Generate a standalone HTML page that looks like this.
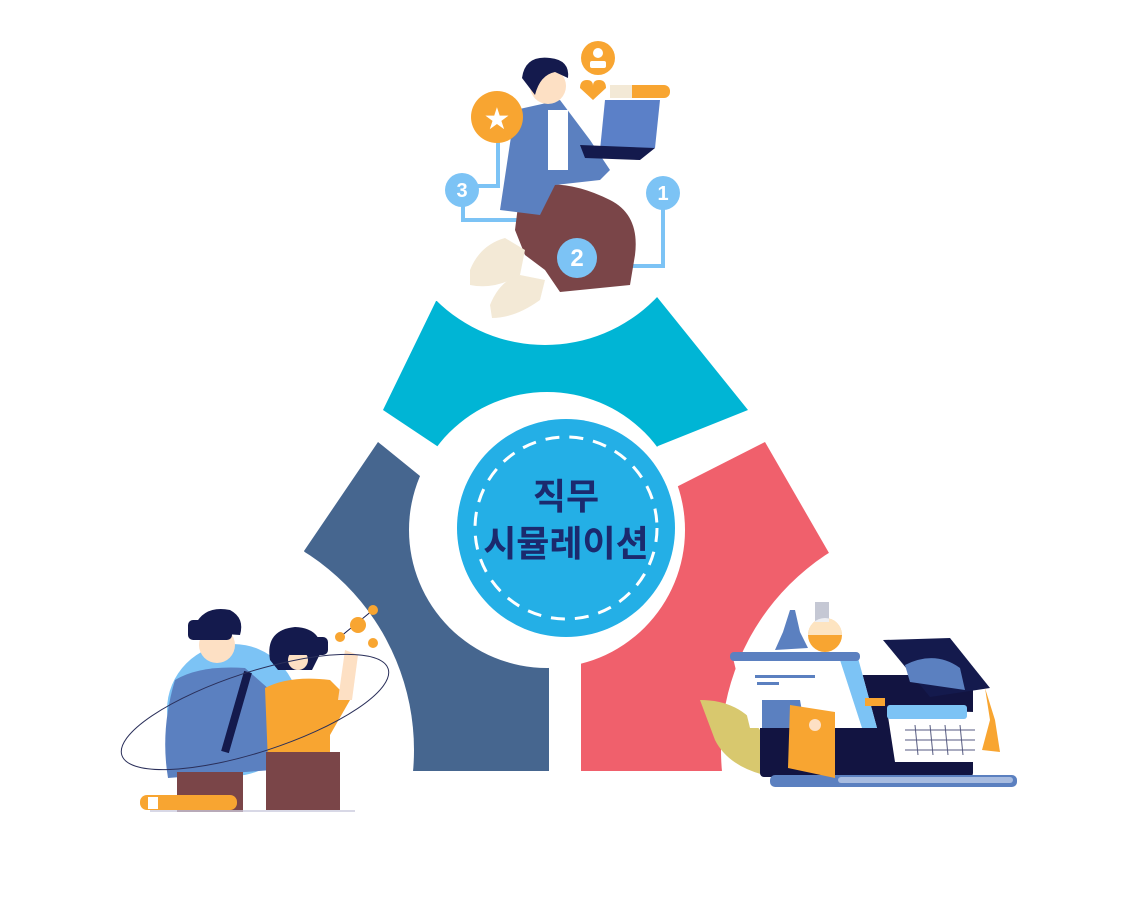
<!DOCTYPE html>
<html><head><meta charset="utf-8"><style>
html,body{margin:0;padding:0;background:#fff;width:1138px;height:904px;overflow:hidden;}
svg{display:block;}
</style></head><body>
<svg width="1138" height="904" viewBox="0 0 1138 904" xmlns="http://www.w3.org/2000/svg">
<rect width="1138" height="904" fill="#fff"/>
<polygon points="436,301 653,292 748,410 658,446 620,480 547,520 475,480 437,446 383,410" fill="#00b5d5"/>
<polygon points="378,442 304,551 412,771 549,771 549,560 470,516 420,476" fill="#46668f"/>
<polygon points="765,442 829,553 722,771 581,771 581,560 635,508 700,475" fill="#f0606c"/>
<circle cx="545" cy="190" r="155" fill="#fff"/>
<circle cx="180" cy="750" r="234" fill="#fff"/>
<circle cx="955" cy="750" r="234" fill="#fff"/>
<circle cx="547" cy="530" r="138" fill="#fff"/>
<circle cx="566" cy="528" r="109" fill="#24afe6"/>
<circle cx="566" cy="528" r="91" fill="none" stroke="#fff" stroke-width="3" stroke-dasharray="14 10"/>
<text x="566" y="509" text-anchor="middle" font-family="'Liberation Sans','Noto Sans CJK KR',sans-serif" font-weight="bold" font-size="36" fill="#1b2a6e">직무</text>
<text x="566" y="556" text-anchor="middle" font-family="'Liberation Sans','Noto Sans CJK KR',sans-serif" font-weight="bold" font-size="36" fill="#1b2a6e">시뮬레이션</text>

<g>
<polyline points="498,140 498,186 478,186" fill="none" stroke="#7cc3f5" stroke-width="4"/>
<polyline points="463,203 463,220 575,220 575,245" fill="none" stroke="#7cc3f5" stroke-width="4"/>
<polyline points="597,266 663,266 663,205" fill="none" stroke="#7cc3f5" stroke-width="4"/>
<path d="M520,190 Q560,175 610,200 Q640,215 635,255 L630,285 L560,292 L545,270 L525,255 L515,230 Z" fill="#7a4548"/>
<path d="M470,270 Q480,245 505,238 L525,250 L520,275 Q495,290 470,285 Z" fill="#f3e9d6"/>
<path d="M490,305 Q500,280 520,275 L545,280 L540,300 Q515,318 492,318 Z" fill="#f3e9d6"/>
<path d="M515,110 L560,100 L590,140 L610,170 L600,180 L555,185 L540,215 L500,210 Z" fill="#5b80c0"/>
<rect x="548" y="110" width="20" height="60" fill="#fff"/>
<circle cx="548" cy="86" r="18" fill="#fde0c4"/>
<path d="M522,78 Q525,55 550,58 Q570,60 568,78 L555,72 Q540,75 535,95 Z" fill="#141a4d"/>
<polygon points="605,100 660,100 655,148 600,150" fill="#5b80c8"/>
<polygon points="580,145 655,148 640,160 585,158" fill="#141a4d"/>
<circle cx="598" cy="58" r="17" fill="#f8a531"/>
<circle cx="598" cy="53" r="5" fill="#fff"/>
<rect x="590" y="61" width="16" height="7" rx="2" fill="#fff"/>
<path d="M593,100 L580,88 Q580,80 587,80 Q593,80 593,86 Q593,80 599,80 Q606,80 606,88 Z" fill="#f8a531"/>
<rect x="610" y="85" width="60" height="13" rx="6" fill="#f8a531"/>
<rect x="610" y="85" width="22" height="13" fill="#f3e9d6"/>
<circle cx="497" cy="117" r="26" fill="#f8a531"/>
<text x="497" y="129" text-anchor="middle" font-family="'DejaVu Sans',sans-serif" font-size="30" fill="#fff">★</text>
<circle cx="462" cy="190" r="17" fill="#7cc3f5"/>
<circle cx="663" cy="193" r="17" fill="#7cc3f5"/>
<circle cx="577" cy="258" r="20" fill="#7cc3f5"/>
<g font-family="'Liberation Sans',sans-serif" font-weight="bold" fill="#fff" text-anchor="middle">
<text x="462" y="197" font-size="20">3</text>
<text x="663" y="200" font-size="20">1</text>
<text x="577" y="266" font-size="24">2</text>
</g>
</g>

<g>
<circle cx="233" cy="710" r="66" fill="#7cc3f5"/>
<path d="M175,680 Q200,665 245,668 L270,690 L272,770 L168,778 Q160,730 175,680 Z" fill="#5b80c0"/>
<rect x="177" y="772" width="66" height="40" fill="#7a4548"/>
<circle cx="217" cy="645" r="18" fill="#fde0c4"/>
<path d="M195,625 Q205,605 230,610 Q245,618 240,635 L195,632 Z" fill="#141a4d"/>
<rect x="188" y="620" width="44" height="20" rx="5" fill="#141a4d"/>
<line x1="248" y1="672" x2="225" y2="752" stroke="#141a4d" stroke-width="8"/>
<path d="M265,688 Q290,675 330,680 L350,700 L330,735 L330,765 L268,763 Z" fill="#f8a531"/>
<path d="M345,650 L358,655 L352,700 L338,700 Z" fill="#fde0c4"/>
<rect x="266" y="752" width="74" height="58" fill="#7a4548"/>
<circle cx="298" cy="652" r="17" fill="#fde0c4"/>
<path d="M270,660 Q265,630 295,627 Q320,628 322,650 L312,670 L278,670 Z" fill="#141a4d"/>
<circle cx="298" cy="660" r="10" fill="#fde0c4"/>
<rect x="285" y="637" width="43" height="18" rx="5" fill="#141a4d"/>
<line x1="340" y1="637" x2="373" y2="610" stroke="#141a4d" stroke-width="1"/>
<circle cx="358" cy="625" r="8" fill="#f8a531"/>
<circle cx="373" cy="610" r="5" fill="#f8a531"/>
<circle cx="340" cy="637" r="5" fill="#f8a531"/>
<circle cx="373" cy="643" r="5" fill="#f8a531"/>
<rect x="140" y="795" width="97" height="15" rx="7" fill="#f8a531"/>
<rect x="148" y="797" width="10" height="12" fill="#fff"/>
<line x1="150" y1="811" x2="355" y2="811" stroke="#ccd" stroke-width="1.5"/>
<ellipse cx="255" cy="712" rx="140" ry="40" transform="rotate(-18 255 712)" fill="none" stroke="#2a2f5a" stroke-width="1"/>
</g>

<g>
<path d="M700,700 Q740,700 760,730 L778,778 Q730,770 715,740 Z" fill="#d8c86e"/>
<rect x="760" y="675" width="213" height="102" rx="4" fill="#121441"/>
<rect x="770" y="775" width="247" height="12" rx="5" fill="#5b80c0"/>
<rect x="838" y="777" width="175" height="6" rx="3" fill="#a8bce0"/>
<polygon points="733,658 858,658 877,728 750,728" fill="#fff"/>
<polygon points="840,660 858,658 877,728 862,728" fill="#7cc3f5"/>
<rect x="730" y="652" width="130" height="9" rx="4" fill="#5b80c0"/>
<rect x="755" y="675" width="60" height="3" fill="#5b80c0"/>
<rect x="757" y="682" width="22" height="3" fill="#5b80c0"/>
<polygon points="762,700 800,700 805,728 762,728" fill="#5b80c0"/>
<rect x="865" y="698" width="20" height="8" fill="#f8a531"/>
<polygon points="887,710 975,712 983,762 895,762" fill="#fff"/>
<rect x="887" y="705" width="80" height="14" rx="3" fill="#7cc3f5"/>
<g stroke="#555a80" stroke-width="1">
<line x1="905" y1="730" x2="975" y2="730"/><line x1="905" y1="740" x2="975" y2="740"/><line x1="905" y1="750" x2="975" y2="750"/>
<line x1="915" y1="725" x2="918" y2="755"/><line x1="930" y1="725" x2="933" y2="755"/><line x1="945" y1="725" x2="948" y2="755"/><line x1="960" y1="725" x2="963" y2="755"/>
</g>
<polygon points="883,640 950,638 990,688 930,697" fill="#141a4d"/>
<path d="M905,665 Q935,650 960,668 L965,690 L910,682 Z" fill="#5b80c0"/>
<path d="M985,688 L990,720 L982,750 L1000,752 L995,720 Z" fill="#f8a531"/>
<polygon points="790,705 835,712 835,778 788,768" fill="#f8a531"/>
<circle cx="815" cy="725" r="6" fill="#fde0c4"/>
<polygon points="783,632 790,610 795,610 800,632 808,648 775,650" fill="#5b80c0"/>
<circle cx="825" cy="635" r="17" fill="#f8a531"/>
<rect x="815" y="602" width="14" height="20" fill="#c5c8d4"/>
<path d="M808,635 A17,17 0 0 1 842,635 Z" fill="#fff" opacity="0.7"/>
</g>
</svg>
</body></html>
